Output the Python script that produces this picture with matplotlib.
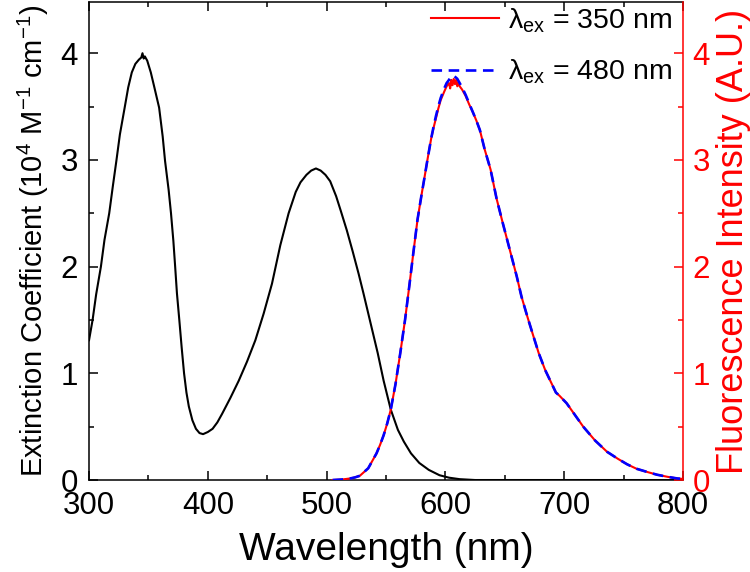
import numpy as np
import matplotlib
matplotlib.use('Agg')
import matplotlib.pyplot as plt
from matplotlib.ticker import MultipleLocator

plt.rcParams['font.family'] = ['Liberation Sans', 'DejaVu Sans']
plt.rcParams['mathtext.fontset'] = 'custom'
plt.rcParams['mathtext.rm'] = 'Liberation Sans'
plt.rcParams['mathtext.it'] = 'Liberation Sans:italic'
plt.rcParams['mathtext.bf'] = 'Liberation Sans:bold'

# Absorption (extinction coefficient, 10^4 M^-1 cm^-1)
abs_wl = [300, 303, 306, 310, 313, 317, 320, 323, 326, 330, 333, 336, 339, 342,
          344, 345, 346, 347, 349, 352, 355, 359, 362, 364, 367, 369, 371, 372.5,
          374, 376, 378, 380, 382, 384, 387, 390, 393, 396, 400, 404, 408, 412,
          419, 426, 433, 440, 447, 454, 461, 468, 474, 478, 483, 487, 491, 495,
          499, 503, 508, 512, 517, 522, 527, 531, 537, 543, 548, 554, 560, 565,
          571, 578, 586, 595, 603, 612, 625, 650, 700, 800]
abs_val = [1.31, 1.50, 1.74, 2.00, 2.25, 2.50, 2.75, 2.99, 3.24, 3.49, 3.68, 3.82,
           3.90, 3.94, 3.96, 4.00, 3.95, 3.97, 3.93, 3.82, 3.68, 3.49, 3.22, 2.99,
           2.72, 2.50, 2.24, 2.00, 1.75, 1.50, 1.24, 1.00, 0.82, 0.69, 0.56, 0.48,
           0.44, 0.43, 0.45, 0.48, 0.54, 0.62, 0.77, 0.93, 1.11, 1.31, 1.56, 1.84,
           2.20, 2.50, 2.70, 2.79, 2.86, 2.90, 2.92, 2.90, 2.86, 2.80, 2.66, 2.52,
           2.34, 2.14, 1.93, 1.75, 1.47, 1.19, 0.93, 0.66, 0.47, 0.36, 0.25, 0.16,
           0.095, 0.045, 0.022, 0.008, 0.0, 0.0, 0.0, 0.0]

# Fluorescence emission (A.U.)
fl_wl = [505, 513, 520, 524, 528, 531, 535, 538, 542, 545, 548, 551, 554, 558,
         562, 566, 569.5, 573, 576.5, 580, 582, 585, 588, 590, 592, 594, 596, 599,
         601, 603, 604, 605, 606, 607, 608, 609, 610, 611, 612, 614, 617, 620, 623,
         626, 629, 633, 638, 643, 648, 652, 656, 660, 664, 669, 674, 678.5, 684,
         690, 693, 696, 702, 709, 716, 726, 736, 745, 753, 761, 770, 778, 787, 795,
         800]
fl_350 = [0.0, 0.005, 0.015, 0.025, 0.04, 0.07, 0.11, 0.17, 0.25, 0.33, 0.42, 0.53,
          0.66, 0.90, 1.19, 1.50, 1.81, 2.13, 2.44, 2.68, 2.81, 3.01, 3.20, 3.30,
          3.39, 3.48, 3.56, 3.64, 3.69, 3.72, 3.67, 3.75, 3.70, 3.76, 3.71, 3.75,
          3.69, 3.73, 3.69, 3.66, 3.60, 3.52, 3.45, 3.37, 3.28, 3.10, 2.91, 2.64,
          2.42, 2.25, 2.08, 1.91, 1.72, 1.53, 1.35, 1.19, 1.03, 0.89, 0.82, 0.79,
          0.72, 0.61, 0.50, 0.37, 0.265, 0.20, 0.147, 0.105, 0.075, 0.05, 0.03,
          0.015, 0.01]
fl_480 = [0.0, 0.005, 0.015, 0.025, 0.04, 0.07, 0.11, 0.17, 0.25, 0.33, 0.42, 0.53,
          0.66, 0.90, 1.19, 1.50, 1.81, 2.13, 2.44, 2.68, 2.81, 3.01, 3.20, 3.31,
          3.41, 3.50, 3.58, 3.67, 3.72, 3.75, 3.77, 3.78, 3.79, 3.79, 3.78, 3.77,
          3.76, 3.74, 3.72, 3.68, 3.61, 3.53, 3.45, 3.37, 3.28, 3.10, 2.91, 2.64,
          2.42, 2.25, 2.08, 1.91, 1.72, 1.53, 1.35, 1.19, 1.03, 0.89, 0.82, 0.79,
          0.72, 0.61, 0.50, 0.37, 0.265, 0.20, 0.147, 0.105, 0.075, 0.05, 0.03,
          0.015, 0.01]

fig = plt.figure(figsize=(7.5, 5.72), dpi=100)
ax = fig.add_axes([0.1187, 0.1608, 0.7920, 0.8357])
ax2 = ax.twinx()

ax.plot(abs_wl, abs_val, color='black', lw=1.5)
ax2.plot(fl_wl, fl_350, color='red', lw=1.5, label=r'λ$_{\mathrm{ex}}$ = 350 nm')
ax2.plot(fl_wl, fl_480, color='blue', lw=1.9, ls=(0, (4, 2.5)),
         label=r'λ$_{\mathrm{ex}}$ = 480 nm')

ax.set_xlim(300, 800)
ax.set_ylim(0, 4.48)
ax2.set_ylim(0, 4.48)

ax.xaxis.set_major_locator(MultipleLocator(100))
ax.xaxis.set_minor_locator(MultipleLocator(50))
ax.yaxis.set_major_locator(MultipleLocator(1))
ax.yaxis.set_minor_locator(MultipleLocator(0.5))
ax2.yaxis.set_major_locator(MultipleLocator(1))
ax2.yaxis.set_minor_locator(MultipleLocator(0.5))

ax.tick_params(which='both', direction='in', top=True, right=False,
               width=1.1, labelsize=22.5, pad=8)
ax.tick_params(which='major', length=6.5)
ax.tick_params(which='minor', length=3.6)
ax2.tick_params(which='both', direction='in', colors='red', width=1.1,
                labelsize=22.5, pad=7)
ax2.tick_params(which='major', length=6.5)
ax2.tick_params(which='minor', length=3.6)

for side in ['left', 'bottom', 'top']:
    ax.spines[side].set_linewidth(1.1)
    ax2.spines[side].set_visible(False)
ax.spines['right'].set_visible(False)
ax2.spines['right'].set_color('red')
ax2.spines['right'].set_linewidth(1.1)

ax.set_xlabel('Wavelength (nm)', fontsize=28, labelpad=8)
ax.set_ylabel(r'Extinction Coefficient (10$^4$ M$^{-1}$ cm$^{-1}$)', fontsize=21,
              labelpad=7)
ax2.set_ylabel('Fluorescence Intensity (A.U.)', fontsize=26, color='red',
               labelpad=4)

ax2.legend(loc='upper right', bbox_to_anchor=(1.0, 1.015), frameon=False,
           fontsize=20.5, handlelength=2.4, handletextpad=0.3, labelspacing=0.8,
           borderaxespad=0)

fig.savefig('out.png', dpi=100)
